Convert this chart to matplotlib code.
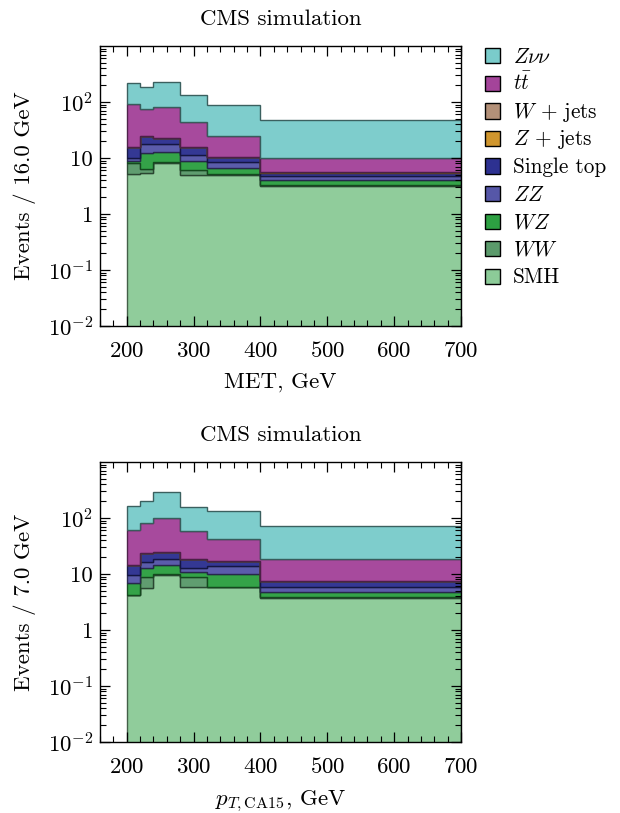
import numpy as np
import matplotlib
matplotlib.use("Agg")
import matplotlib.pyplot as plt
from matplotlib.patches import Patch, Rectangle
from matplotlib.legend_handler import HandlerPatch
from matplotlib.ticker import FixedLocator, FixedFormatter, LogLocator, MultipleLocator, NullFormatter

plt.rcParams['font.family'] = ['cmr10', 'DejaVu Serif']
plt.rcParams['mathtext.fontset'] = 'cm'
plt.rcParams['axes.unicode_minus'] = False
plt.rcParams['axes.formatter.use_mathtext'] = True

# ---------------- data ----------------
edges = [200, 220, 240, 280, 320, 400, 700]
processes = ["SMH", "WW", "WZ", "ZZ", "Single top", "Z + jets", "W + jets", "ttbar", "Znunu"]
labels = {"SMH": "SMH", "WW": r"$WW$", "WZ": r"$WZ$", "ZZ": r"$ZZ$",
          "Single top": "Single top", "Z + jets": r"$Z$ + jets", "W + jets": r"$W$ + jets",
          "ttbar": r"$t\bar{t}$", "Znunu": r"$Z\nu\nu$"}
colors = {"SMH": "#8ccb98", "WW": "#5b9a6b", "WZ": "#2da042", "ZZ": "#5657a8",
          "Single top": "#2d3191", "Z + jets": "#d0962e", "W + jets": "#b39078",
          "ttbar": "#a4449a", "Znunu": "#7acccb"}

# MET panel (events per bin, per process)
met_SMH = [5.2, 5.3, 8.0, 5.0, 5.0, 3.2]
met_WW = [2.8, 1.0, 0.6, 1.1, 0.2, 0.1]
met_WZ = [1.0, 5.8, 4.4, 2.9, 1.5, 0.75]
met_ZZ = [0.9, 5.7, 4.6, 2.3, 1.7, 0.75]
met_ST = [6.0, 6.9, 5.5, 4.6, 2.1, 0.7]
met_Zjets = [0.02, 0.02, 0.02, 0.02, 0.02, 0.02]
met_Wjets = [0.02, 0.02, 0.02, 0.02, 0.02, 0.02]
met_tt = [76, 50, 58, 28, 14, 4.4]
met_Znn = [124, 112, 147, 89, 63, 37]

# pT CA15 panel
pt_SMH = [4.2, 5.6, 9.8, 5.9, 5.8, 3.8]
pt_WW = [0.05, 3.1, 0.4, 3.1, 0.05, 0.05]
pt_WZ = [2.55, 4.3, 4.3, 2.0, 4.15, 0.95]
pt_ZZ = [2.8, 3.4, 4.3, 2.0, 4.1, 1.0]
pt_ST = [4.9, 7.0, 5.6, 5.5, 3.0, 1.7]
pt_Zjets = [0.02, 0.02, 0.02, 0.02, 0.02, 0.02]
pt_Wjets = [0.02, 0.02, 0.02, 0.02, 0.02, 0.02]
pt_tt = [47.5, 56.6, 76.6, 39.5, 24.9, 11.0]
pt_Znn = [102, 119, 187, 97, 91, 53.5]

xticks = [200, 300, 400, 500, 600, 700]
yticks = [1e-2, 1e-1, 1, 10, 1e2]
yticklabels = [r"$10^{-2}$", r"$10^{-1}$", "1", "10", r"$10^{2}$"]

met_data = [met_SMH, met_WW, met_WZ, met_ZZ, met_ST, met_Zjets, met_Wjets, met_tt, met_Znn]
pt_data = [pt_SMH, pt_WW, pt_WZ, pt_ZZ, pt_ST, pt_Zjets, pt_Wjets, pt_tt, pt_Znn]

FS = 16.5


def darker(c, f=0.45):
    r, g, b = matplotlib.colors.to_rgb(c)
    return (r * f, g * f, b * f)


def draw(ax, data, ylabel, xlabel):
    base = np.full(len(edges) - 1, 1e-4)
    for name, vals in zip(processes, data):
        top = base + np.array(vals)
        ax.stairs(top, edges, baseline=base, fill=True, facecolor=colors[name],
                  edgecolor=darker(colors[name]), linewidth=1.0, alpha=0.97)
        base = top
    ax.set_yscale("log")
    ax.set_xlim(160, 700)
    ax.set_ylim(1e-2, 1e3)
    ax.xaxis.set_major_locator(FixedLocator(xticks))
    ax.xaxis.set_minor_locator(MultipleLocator(20))
    ax.yaxis.set_major_locator(FixedLocator(yticks))
    ax.yaxis.set_major_formatter(FixedFormatter(yticklabels))
    ax.yaxis.set_minor_locator(LogLocator(base=10, subs=np.arange(2, 10), numticks=20))
    ax.yaxis.set_minor_formatter(NullFormatter())
    ax.tick_params(which="both", direction="in", top=True, right=True, labelsize=FS)
    ax.tick_params(which="major", length=7, width=0.9)
    ax.tick_params(which="minor", length=4, width=0.8)
    ax.tick_params(axis="x", pad=11)
    ax.tick_params(axis="y", pad=5)
    ax.set_title("CMS simulation", fontsize=FS, pad=15)
    ax.set_ylabel(ylabel, fontsize=FS, labelpad=8)
    ax.set_xlabel(xlabel, fontsize=FS, labelpad=8)
    for s in ax.spines.values():
        s.set_linewidth(1.0)


def small_square(legend, orig_handle, xdescent, ydescent, width, height, fontsize):
    s = 0.72 * fontsize
    return Rectangle((-xdescent, -ydescent + (height - s) / 2.0), s, s)


fig = plt.figure(figsize=(6.2, 8.13), dpi=100)
ax1 = fig.add_axes([0.1613, 0.599, 0.5823, 0.3444])
ax2 = fig.add_axes([0.1613, 0.0873, 0.5823, 0.3444])

draw(ax1, met_data, "Events / 16.0 GeV", "MET, GeV")
draw(ax2, pt_data, "Events / 7.0 GeV", r"$p_{T,\mathrm{CA15}}$, GeV")

handles = [Patch(facecolor=colors[n], edgecolor="black", linewidth=1.0, label=labels[n])
           for n in processes[::-1]]
ax1.legend(handles=handles, loc="upper left", bbox_to_anchor=(1.043, 1.045), frameon=False,
           fontsize=15.3, handlelength=0.72, handleheight=1.62, handletextpad=0.6,
           labelspacing=0.0, borderaxespad=0.0,
           handler_map={Patch: HandlerPatch(patch_func=small_square)})

fig.savefig("out.png", dpi=100)
